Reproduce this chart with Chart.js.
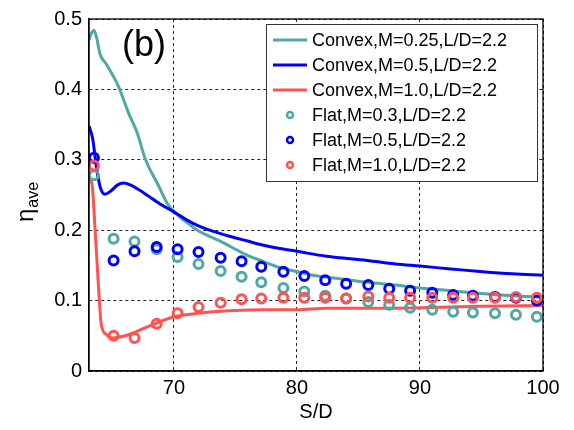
<!DOCTYPE html>
<html>
<head>
<meta charset="utf-8">
<script src="https://cdn.jsdelivr.net/npm/chart.js@4/dist/chart.umd.min.js"></script>
<style>
html,body{margin:0;padding:0;background:#fff;}
canvas{display:block;}
</style>
</head>
<body>
<canvas id="c" width="574" height="430"></canvas>
<script>
// ---- data ----
const seriesLabels = [
  'Convex,M=0.25,L/D=2.2',
  'Convex,M=0.5,L/D=2.2',
  'Convex,M=1.0,L/D=2.2',
  'Flat,M=0.3,L/D=2.2',
  'Flat,M=0.5,L/D=2.2',
  'Flat,M=1.0,L/D=2.2'
];
const xTicks = [70, 80, 90, 100];
const yTicks = [0, 0.1, 0.2, 0.3, 0.4, 0.5];
const yTickLabels = ['0', '0.1', '0.2', '0.3', '0.4', '0.5'];

const tealLineX = [63.1,63.2,63.5,63.7,64.0,64.5,65.5,66.3,67.0,67.7,68.7,69.5,70.2,71.2,71.9,73.8,75.9,77.2,78.6,80.3,81.3,83.5,85.7,88.0,90.0,92.5,95.0,97.5,100];
const tealLineY = [0.470,0.476,0.484,0.475,0.450,0.436,0.404,0.367,0.339,0.300,0.265,0.237,0.223,0.209,0.200,0.184,0.165,0.156,0.147,0.140,0.136,0.131,0.126,0.122,0.118,0.114,0.110,0.107,0.105];

const blueLineX = [63.1,63.4,63.7,64.0,64.4,64.9,65.4,65.9,66.5,67.2,67.8,68.9,70.0,71.0,72.0,72.9,74.6,75.9,77.2,78.6,80.0,82.4,85.7,88.0,90.0,92.5,95.1,97.5,100];
const blueLineY = [0.348,0.330,0.290,0.262,0.251,0.256,0.264,0.267,0.264,0.257,0.250,0.237,0.226,0.215,0.206,0.200,0.191,0.185,0.179,0.174,0.170,0.163,0.157,0.152,0.149,0.145,0.141,0.138,0.136];

const redLineX = [63.1,63.35,63.6,63.85,64.1,64.5,65.05,65.8,66.7,67.6,68.6,70.0,71.5,73.2,75.0,77.2,80.0,82.4,85.0,90.0,95.0,100];
const redLineY = [0.274,0.265,0.200,0.126,0.066,0.052,0.047,0.049,0.054,0.061,0.068,0.077,0.081,0.084,0.086,0.087,0.087,0.089,0.089,0.090,0.092,0.093];

const flatX = [63.5,65.1,66.8,68.6,70.3,72.0,73.8,75.5,77.1,78.9,80.6,82.3,84.0,85.8,87.5,89.2,91.0,92.7,94.3,96.1,97.8,99.5];
const tealFlatY = [0.278,0.188,0.184,0.173,0.162,0.152,0.142,0.134,0.126,0.118,0.113,0.107,0.103,0.098,0.094,0.090,0.087,0.084,0.083,0.082,0.080,0.077];
const blueFlatY = [0.303,0.157,0.170,0.176,0.173,0.169,0.161,0.156,0.148,0.141,0.135,0.129,0.124,0.122,0.117,0.114,0.111,0.108,0.107,0.105,0.104,0.100];
const redFlatY = [0.292,0.050,0.047,0.067,0.082,0.091,0.097,0.102,0.103,0.104,0.104,0.104,0.103,0.106,0.104,0.104,0.104,0.104,0.104,0.104,0.105,0.104];

// ---- styles ----
const TEAL = '#4FA9A1', BLUE = '#0000FF', RED = '#FF5252';
const FONT = '"Liberation Sans", Arial, sans-serif';

function pts(xs, ys){ return xs.map((x,i)=>({x:x, y:ys[i]})); }

function lineDs(label, xs, ys, color, order){
  return {label, data: pts(xs,ys), borderColor: color, backgroundColor: color,
    borderWidth: 3, pointRadius: 0, showLine: true, fill: false,
    cubicInterpolationMode: 'monotone', order, kind: 'line'};
}
function flatDs(label, xs, ys, color, order){
  return {label, data: pts(xs,ys), borderColor: color, backgroundColor: 'rgba(0,0,0,0)',
    pointBorderColor: color, pointBackgroundColor: 'rgba(0,0,0,0)',
    pointRadius: 4.5, pointBorderWidth: 3, showLine: false, order, kind: 'flat'};
}

const datasets = [
  lineDs(seriesLabels[0], tealLineX, tealLineY, TEAL, 6),
  lineDs(seriesLabels[1], blueLineX, blueLineY, BLUE, 5),
  lineDs(seriesLabels[2], redLineX, redLineY, RED, 4),
  flatDs(seriesLabels[3], flatX, tealFlatY, TEAL, 3),
  flatDs(seriesLabels[4], flatX, blueFlatY, BLUE, 2),
  flatDs(seriesLabels[5], flatX, redFlatY, RED, 1)
];

const decor = {
  id: 'decor',
  afterDatasetsDraw(chart){
    const ctx = chart.ctx, a = chart.chartArea;
    ctx.save();
    // plot box
    ctx.strokeStyle = '#000'; ctx.lineWidth = 1.3; ctx.setLineDash([]);
    ctx.strokeRect(a.left, a.top, a.right - a.left, a.bottom - a.top);
    // (b) label
    ctx.fillStyle = '#000';
    ctx.font = '36px ' + FONT;
    ctx.textAlign = 'left'; ctx.textBaseline = 'alphabetic';
    ctx.fillText('(b)', 122, 56);
    // legend
    const lx = 266, ly = 24, lw = 271, lh = 157;
    ctx.fillStyle = '#fff'; ctx.fillRect(lx, ly, lw, lh);
    ctx.strokeStyle = '#333'; ctx.lineWidth = 1;
    ctx.strokeRect(lx + 0.5, ly + 0.5, lw, lh);
    ctx.font = '18px ' + FONT;
    ctx.textBaseline = 'middle';
    chart.data.datasets.forEach((ds, i) => {
      const cy = 40 + i * 25;
      if (ds.kind === 'line'){
        ctx.strokeStyle = ds.borderColor; ctx.lineWidth = 3;
        ctx.beginPath(); ctx.moveTo(273, cy); ctx.lineTo(307, cy); ctx.stroke();
      } else {
        ctx.strokeStyle = ds.borderColor; ctx.lineWidth = 2.5;
        ctx.beginPath(); ctx.arc(290, cy, 3, 0, Math.PI*2); ctx.stroke();
      }
      ctx.fillStyle = '#000';
      ctx.fillText(ds.label, 312, cy + 1);
    });
    // y axis title: eta with subscript "ave"
    ctx.translate(33, 222);
    ctx.rotate(-Math.PI/2);
    ctx.textBaseline = 'alphabetic';
    ctx.font = '24px ' + FONT;
    ctx.fillText('η', 0, 0);
    const w = ctx.measureText('η').width;
    ctx.font = '16px ' + FONT;
    ctx.fillText('ave', w + 1, 5);
    ctx.restore();
  }
};

new Chart(document.getElementById('c'), {
  type: 'scatter',
  data: { datasets },
  options: {
    responsive: false,
    animation: false,
    devicePixelRatio: 1,
    layout: { padding: { top: 12, right: 31, left: 0, bottom: 0 } },
    plugins: { legend: { display: false }, tooltip: { enabled: false } },
    scales: {
      x: {
        type: 'linear', min: 63.1, max: 100,
        afterBuildTicks(s){ s.ticks = xTicks.map(v => ({value: v})); },
        afterFit(s){ s.height = 59; },
        grid: { color: '#222', lineWidth: 1, drawTicks: false },
        border: { display: true, color: '#000', width: 1.3, dash: [3,3] },
        ticks: { color: '#000', font: { size: 20, family: FONT }, padding: 5, maxRotation: 0,
          callback: v => String(v) },
        title: { display: true, text: 'S/D', color: '#000', font: { size: 20, family: FONT },
          padding: { top: 0, bottom: 6 } }
      },
      y: {
        type: 'linear', min: 0, max: 0.5,
        afterBuildTicks(s){ s.ticks = yTicks.map(v => ({value: v})); },
        afterFit(s){ s.width = 89; },
        grid: { color: '#222', lineWidth: 1, drawTicks: false },
        border: { display: true, color: '#000', width: 1.3, dash: [3,3] },
        ticks: { color: '#000', font: { size: 20, family: FONT }, padding: 7,
          callback: (v) => { const i = yTicks.findIndex(t => Math.abs(t - v) < 1e-9); return i >= 0 ? yTickLabels[i] : ''; } }
      }
    }
  },
  plugins: [decor]
});
</script>
</body>
</html>
